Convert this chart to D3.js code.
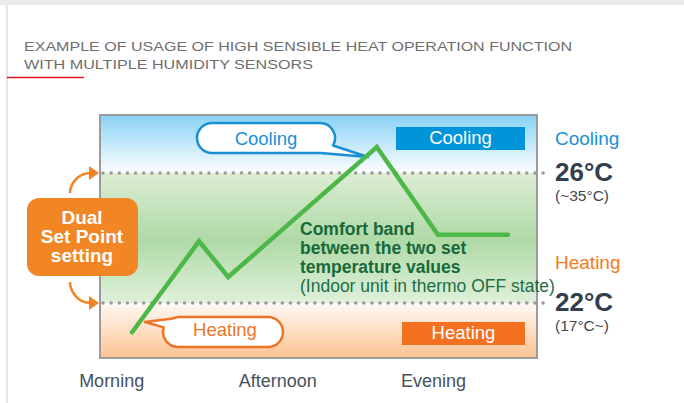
<!DOCTYPE html>
<html>
<head>
<meta charset="utf-8">
<script src="https://cdn.jsdelivr.net/npm/d3@7"></script>
<style>
  html, body { margin: 0; padding: 0; background: #fff; }
  svg { display: block; font-family: "Liberation Sans", Arial, sans-serif; }
</style>
</head>
<body>
<svg id="chart" width="684" height="403"></svg>
<script>
// time of day (hours) and indoor temperature (°C)
const hours = [7.1, 9.4, 10.4, 15.5, 17.6, 20.0];
const temps = [21.1, 23.9, 22.8, 26.8, 24.1, 24.1];

const setPoints = [26, 22];
const setPointLabels = ["26°C", "22°C"];
const setPointRanges = ["(~35°C)", "(17°C~)"];
const modeLabels = ["Cooling", "Heating"];

const periods = ["Morning", "Afternoon", "Evening"];
const periodHours = [6.4, 12.1, 17.45];

const titleLines = [
  "EXAMPLE OF USAGE OF HIGH SENSIBLE HEAT OPERATION FUNCTION",
  "WITH MULTIPLE HUMIDITY SENSORS"
];
const comfortLines = [
  "Comfort band",
  "between the two set",
  "temperature values"
];
const comfortNote = "(Indoor unit in thermo OFF state)";

const blue = "#1a90d4";
const orange = "#f07427";
const boxOrange = "#f28524";

const svg = d3.select("#chart");
const box = { x0: 100, x1: 537, y0: 115, y1: 358 };

const x = d3.scaleLinear().domain([6, 21]).range([box.x0, box.x1]);
const y = d3
  .scaleLinear()
  .domain([26 + (173 - box.y0) / 32.5, 22 - (box.y1 - 303) / 32.5])
  .range([box.y0, box.y1]);

// page frame
svg.append("rect").attr("width", 684).attr("height", 5).attr("fill", "#ebebeb");
svg
  .append("line")
  .attr("x1", 7).attr("x2", 7).attr("y1", 5).attr("y2", 403)
  .attr("stroke", "#e6e6e6").attr("stroke-width", 2);

// title
const titleWidths = [548, 289];
svg
  .selectAll("text.title")
  .data(titleLines)
  .join("text")
  .attr("class", "title")
  .attr("x", 24)
  .attr("y", (d, i) => 50.5 + i * 18.5)
  .attr("font-size", 13.5)
  .attr("fill", "#6e6e6e")
  .attr("textLength", (d, i) => titleWidths[i])
  .attr("lengthAdjust", "spacingAndGlyphs")
  .text((d) => d);
svg
  .append("line")
  .attr("x1", 7).attr("x2", 84).attr("y1", 77.5).attr("y2", 77.5)
  .attr("stroke", "#e8141c").attr("stroke-width", 1.5);

// background gradient of the box
const defs = svg.append("defs");
const grad = defs
  .append("linearGradient")
  .attr("id", "bg")
  .attr("x1", 0).attr("x2", 0).attr("y1", 0).attr("y2", 1);
const yTop = y(setPoints[0]), yBot = y(setPoints[1]);
const off = (py) => (py - box.y0) / (box.y1 - box.y0);
[
  [0, "#88d2f6"],
  [off(yTop - 6), "#f3fafd"],
  [off(yTop), "#f8fcfe"],
  [off(yTop) + 0.002, "#dcedd4"],
  [off((yTop + yBot) / 2 + 2), "#afd9a6"],
  [off(yBot - 4), "#dcefd7"],
  [off(yBot), "#e4f2e0"],
  [off(yBot) + 0.002, "#fff9f4"],
  [1, "#fbc392"]
].forEach(([o, c]) => grad.append("stop").attr("offset", o).attr("stop-color", c));

svg
  .append("rect")
  .attr("x", box.x0).attr("y", box.y0)
  .attr("width", box.x1 - box.x0).attr("height", box.y1 - box.y0)
  .attr("fill", "url(#bg)")
  .attr("stroke", "#9b9b9b").attr("stroke-width", 2);

// dotted set point lines
svg
  .selectAll("line.setpoint")
  .data(setPoints)
  .join("line")
  .attr("class", "setpoint")
  .attr("x1", 103).attr("x2", 549)
  .attr("y1", (d) => y(d)).attr("y2", (d) => y(d))
  .attr("stroke", "#9a9a9a")
  .attr("stroke-width", 3.6)
  .attr("stroke-linecap", "round")
  .attr("stroke-dasharray", "0 8.15");

// filled mode boxes
const modeBoxes = [
  { x0: 396, x1: 525, y0: 127, y1: 150, fill: "#0095d9" },
  { x0: 402, x1: 525, y0: 322, y1: 345, fill: "#f37021" }
];
modeBoxes.forEach((b, i) => {
  svg
    .append("rect")
    .attr("x", b.x0).attr("y", b.y0)
    .attr("width", b.x1 - b.x0).attr("height", b.y1 - b.y0)
    .attr("fill", b.fill);
  svg
    .append("text")
    .attr("x", (b.x0 + b.x1) / 2)
    .attr("y", b.y0 + 16.5)
    .attr("text-anchor", "middle")
    .attr("font-size", 18.5)
    .attr("fill", "#fff")
    .text(modeLabels[i]);
});

// callout bubbles
const coolBubble = d3.path();
coolBubble.moveTo(212, 123);
coolBubble.lineTo(320, 123);
coolBubble.arc(320, 138, 15, -Math.PI / 2, Math.PI / 6);
coolBubble.lineTo(368, 157);
coolBubble.lineTo(321, 153);
coolBubble.lineTo(212, 153);
coolBubble.arc(212, 138, 15, Math.PI / 2, Math.PI * 1.5);
coolBubble.closePath();

const heatBubble = d3.path();
heatBubble.moveTo(178, 317);
heatBubble.lineTo(268, 317);
heatBubble.arc(268, 332, 15, -Math.PI / 2, Math.PI / 2);
heatBubble.lineTo(178, 347);
heatBubble.arc(178, 332, 15, Math.PI / 2, Math.PI * 1.1);
heatBubble.lineTo(145, 322);
heatBubble.lineTo(171, 318.8);
heatBubble.closePath();

[
  { p: coolBubble, c: blue, tx: 266, ty: 145, label: modeLabels[0] },
  { p: heatBubble, c: orange, tx: 225, ty: 336, label: modeLabels[1] }
].forEach((b) => {
  svg
    .append("path")
    .attr("d", b.p.toString())
    .attr("fill", "#fff")
    .attr("stroke", b.c)
    .attr("stroke-width", 2.5)
    .attr("stroke-linejoin", "round");
  svg
    .append("text")
    .attr("x", b.tx).attr("y", b.ty)
    .attr("text-anchor", "middle")
    .attr("font-size", 18.5)
    .attr("fill", b.c)
    .text(b.label);
});

// temperature line
const line = d3
  .line()
  .x((d) => x(d[0]))
  .y((d) => y(d[1]));
svg
  .append("path")
  .datum(d3.zip(hours, temps))
  .attr("d", line)
  .attr("fill", "none")
  .attr("stroke", "#4cb848")
  .attr("stroke-width", 4.5)
  .attr("stroke-linecap", "round")
  .attr("stroke-linejoin", "miter");

// comfort band text
const comfort = svg
  .append("text")
  .attr("x", 300)
  .attr("font-size", 17.5)
  .attr("fill", "#17693a");
comfort
  .selectAll("tspan")
  .data(comfortLines)
  .join("tspan")
  .attr("x", 300)
  .attr("y", (d, i) => 235 + i * 19)
  .attr("font-weight", "bold")
  .text((d) => d);
comfort
  .append("tspan")
  .attr("x", 300)
  .attr("y", 292)
  .attr("fill", "#1f6e45")
  .text(comfortNote);

// right side labels
const modeColors = [blue, "#f47a20"];
const modeDy = [-28, -34];
const rangeDy = [27.5, 27.5];
setPoints.forEach((t, i) => {
  svg
    .append("text")
    .attr("x", 555).attr("y", y(t) + modeDy[i])
    .attr("font-size", 19)
    .attr("fill", modeColors[i])
    .text(modeLabels[i]);
  svg
    .append("text")
    .attr("x", 555).attr("y", y(t) + 8)
    .attr("font-size", 26)
    .attr("font-weight", "bold")
    .attr("fill", "#333f4d")
    .text(setPointLabels[i]);
  svg
    .append("text")
    .attr("x", 555).attr("y", y(t) + rangeDy[i])
    .attr("font-size", 15.5)
    .attr("fill", "#3f4750")
    .text(setPointRanges[i]);
});

// dual set point box and arrows
svg
  .append("rect")
  .attr("x", 27).attr("y", 198)
  .attr("width", 111).attr("height", 78)
  .attr("rx", 12)
  .attr("fill", boxOrange);
svg
  .append("text")
  .attr("text-anchor", "middle")
  .attr("font-size", 19)
  .attr("font-weight", "bold")
  .attr("fill", "#fff")
  .selectAll("tspan")
  .data(["Dual", "Set Point", "setting"])
  .join("tspan")
  .attr("x", 82)
  .attr("y", (d, i) => 224 + i * 19)
  .text((d) => d);

[
  { from: 193, to: y(setPoints[0]) },
  { from: 282, to: y(setPoints[1]) }
].forEach((a) => {
  svg
    .append("path")
    .attr("d", `M70,${a.from} C70,${(a.from + a.to) / 2 - (a.to - a.from) * 0.15} 76,${a.to} 91,${a.to}`)
    .attr("fill", "none")
    .attr("stroke", boxOrange)
    .attr("stroke-width", 2.5);
  svg
    .append("path")
    .attr("d", `M89,${a.to - 7} L99,${a.to} L89,${a.to + 7} Z`)
    .attr("fill", boxOrange);
});

// x labels
svg
  .selectAll("text.period")
  .data(periods)
  .join("text")
  .attr("class", "period")
  .attr("x", (d, i) => x(periodHours[i]))
  .attr("y", 387)
  .attr("text-anchor", "middle")
  .attr("font-size", 18)
  .attr("fill", "#46525e")
  .text((d) => d);
</script>
</body>
</html>
